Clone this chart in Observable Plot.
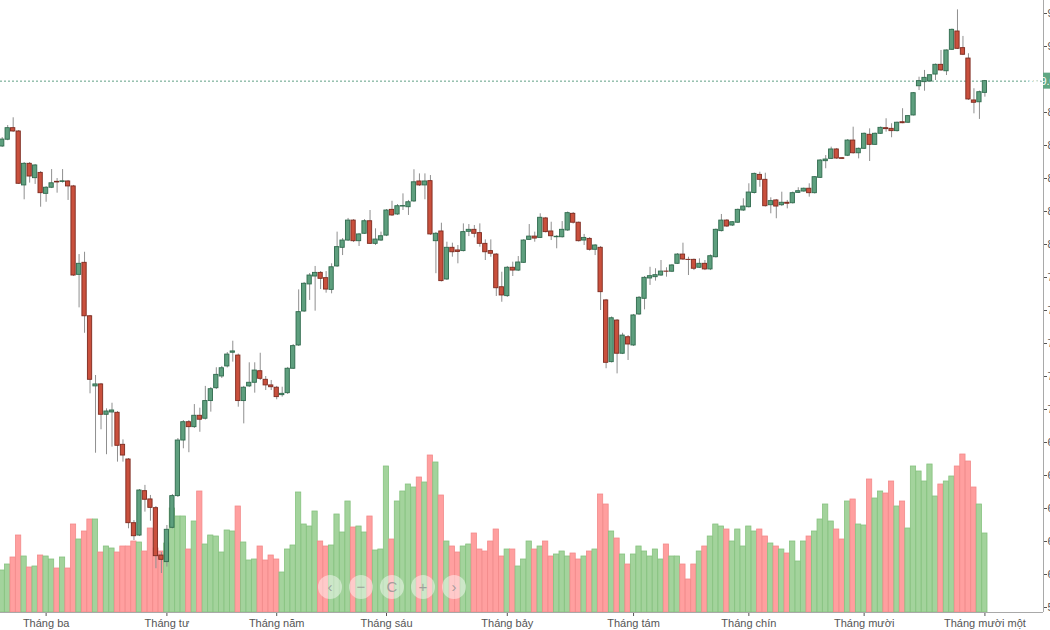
<!DOCTYPE html>
<html>
<head>
<meta charset="utf-8">
<script src="https://cdn.jsdelivr.net/npm/d3@7"></script>
<script src="https://cdn.jsdelivr.net/npm/@observablehq/plot@0.6"></script>
<style>
  html, body { margin: 0; padding: 0; background: #fff; overflow: hidden; }
  #chart { position: relative; width: 1050px; height: 630px; font-family: "Liberation Sans", Arial, sans-serif; }
  #chart svg { position: absolute; left: 0; top: 0; }
  .nav { position: absolute; width: 24px; height: 24px; border-radius: 50%;
         background: rgba(255,255,255,0.45); color: rgba(140,140,140,0.75);
         font: 15px/24px "Liberation Sans", Arial, sans-serif; text-align: center; }
</style>
</head>
<body>
<div id="chart"></div>
<script>
// Daily OHLC (index points) and volume (million shares), 19/02 – 02/11
const open = [
  859.4,863.5,870.5,868.5,835.8,848.9,840.2,843.4,830.7,834.4,
  838.0,837.9,838.2,835.2,781.6,788.9,756.5,714.0,715.2,696.8,
  698.2,698.0,678.6,669.7,631.1,623.6,650.5,645.5,640.2,611.5,
  607.5,628.3,647.5,681.2,692.3,689.3,696.2,694.4,705.1,712.9,
  720.0,726.1,734.4,732.7,705.1,714.0,716.2,723.2,718.0,714.6,
  713.2,708.7,709.9,724.7,738.8,759.4,775.8,780.6,782.8,779.6,
  772.5,786.7,798.0,802.4,814.5,802.0,806.5,814.1,800.4,802.4,
  805.4,821.0,818.2,823.0,822.6,826.1,838.2,835.8,838.4,802.0,
  807.9,778.8,798.0,796.4,796.0,807.7,808.9,806.9,800.4,796.0,
  793.9,774.1,768.7,785.9,784.2,788.9,802.8,804.8,804.0,815.8,
  807.9,804.4,804.4,808.5,818.6,813.2,802.4,803.4,796.8,798.0,
  766.1,728.7,753.9,733.8,743.8,738.8,757.6,767.1,779.4,780.2,
  781.2,783.6,783.5,788.3,793.9,790.7,790.7,785.9,788.3,784.9,
  792.3,808.1,814.5,811.5,813.2,820.6,822.6,831.2,842.2,839.2,
  823.8,826.7,823.8,825.3,825.0,831.3,832.1,833.8,831.1,840.4,
  850.5,851.9,857.6,852.3,853.8,863.0,855.3,858.0,866.5,860.4,
  867.1,870.5,870.1,868.7,874.1,873.8,878.2,895.9,898.4,898.8,
  903.0,908.9,905.0,918.0,929.1,919.0,912.7,887.3,886.2,891.9
];
const high = [
  864.8,872.1,876.8,869.1,849.7,849.7,848.5,844.2,835.1,845.4,
  840.0,845.4,838.8,835.8,793.9,795.3,757.0,720.6,715.8,700.4,
  703.8,698.8,681.6,670.3,632.7,651.5,654.0,647.9,641.2,613.3,
  629.7,648.5,682.4,693.3,693.3,703.0,700.8,714.0,713.3,725.3,
  726.1,734.5,741.4,733.6,714.0,728.3,728.3,734.1,720.0,717.6,
  714.0,713.5,725.5,739.4,772.5,777.0,782.4,786.7,783.6,783.6,
  788.3,807.5,803.6,815.8,815.1,806.7,815.1,820.6,809.5,807.5,
  821.2,826.2,824.2,830.7,826.7,845.3,842.8,842.8,841.8,807.3,
  812.9,801.4,800.8,799.4,812.5,812.1,811.5,812.5,802.8,802.8,
  794.5,783.2,786.7,789.3,792.7,803.0,812.1,807.5,818.6,816.4,
  813.5,805.4,813.9,819.7,819.4,813.6,806.1,804.2,800.0,798.8,
  766.7,756.1,754.5,746.2,744.8,757.6,768.5,780.6,786.2,785.3,
  790.3,785.9,787.9,794.5,800.8,792.3,791.2,791.3,790.3,793.7,
  809.4,818.2,815.1,813.9,821.5,827.7,836.8,843.3,843.8,843.2,
  828.3,827.3,831.7,826.7,831.8,834.4,834.2,836.8,841.2,851.5,
  853.9,859.0,858.2,852.7,863.6,871.1,858.5,867.6,870.1,867.6,
  871.2,876.2,873.2,874.2,882.3,878.2,892.1,901.4,905.5,903.0,
  909.4,917.6,917.9,930.6,942.2,926.1,915.6,894.4,893.0,899.4
];
const low = [
  858.8,862.9,867.9,836.4,827.1,837.2,836.4,822.6,825.6,833.9,
  831.1,837.2,826.7,780.6,761.6,746.2,709.5,673.5,687.7,672.6,
  677.2,668.1,668.1,627.7,620.6,623.0,637.8,632.3,603.5,600.6,
  604.5,627.6,646.7,676.2,673.8,688.5,686.2,693.6,698.4,712.1,
  718.8,725.2,728.7,701.4,691.3,713.3,709.9,717.6,711.5,711.5,
  705.9,707.5,709.1,724.3,738.2,758.8,766.1,759.6,772.7,770.5,
  770.1,786.1,793.3,801.8,801.2,798.8,806.1,800.0,799.4,801.8,
  804.8,817.0,817.6,820.6,817.6,825.5,835.2,827.1,805.5,782.3,
  777.3,778.2,792.3,788.3,795.5,804.8,804.0,798.4,790.3,792.3,
  768.5,765.0,767.9,780.6,783.6,788.5,802.4,801.4,803.6,807.0,
  802.4,797.4,803.9,807.9,812.4,801.5,799.4,796.0,793.3,760.0,
  724.7,728.2,721.6,733.3,729.7,738.2,757.0,760.4,775.2,777.8,
  780.6,780.2,783.0,787.9,790.3,781.2,784.2,785.5,784.2,784.2,
  791.8,807.6,810.3,810.9,812.7,820.0,822.1,830.6,834.7,822.7,
  818.6,815.6,823.0,821.6,824.5,830.9,831.7,828.7,830.6,840.0,
  845.9,851.5,851.5,851.5,853.3,854.8,851.9,857.6,850.3,860.0,
  866.7,868.1,864.7,868.2,873.2,873.3,877.9,893.3,892.9,898.2,
  899.4,904.9,902.4,917.6,918.2,914.5,887.3,879.2,875.8,889.3
];
const close = [
  863.6,870.5,868.5,836.8,848.9,841.2,847.9,831.1,834.4,837.1,
  837.6,838.3,835.2,781.2,788.3,756.5,718.0,715.2,696.8,698.8,
  699.4,678.0,672.1,631.1,623.2,650.9,645.3,640.4,611.1,608.9,
  627.1,647.5,681.2,692.3,689.3,696.2,693.8,705.1,712.3,721.0,
  725.0,733.3,735.2,705.1,713.2,716.2,723.6,718.6,714.6,713.5,
  707.5,709.5,724.7,738.4,759.0,776.2,781.2,782.8,779.2,772.7,
  786.2,798.4,802.4,814.5,802.0,806.1,814.1,800.4,803.0,805.0,
  820.6,817.6,823.2,823.3,825.6,837.7,835.8,838.2,806.1,806.5,
  777.8,798.0,795.3,795.5,807.5,808.9,806.5,800.4,795.3,794.4,
  773.5,769.1,785.9,784.2,789.1,802.4,804.8,803.6,816.2,807.5,
  805.0,804.7,808.9,819.0,813.2,802.0,804.0,796.8,799.4,771.1,
  728.3,755.3,733.8,744.8,739.4,757.0,767.7,779.8,780.8,781.4,
  783.6,783.5,787.3,793.9,790.9,790.6,785.3,788.3,784.9,792.9,
  808.9,814.5,810.9,813.5,821.0,823.0,831.5,842.8,839.2,823.2,
  826.3,823.0,825.3,824.7,831.1,832.3,833.8,831.1,840.8,850.9,
  851.5,857.6,852.1,851.9,863.0,855.3,858.0,867.1,860.4,867.1,
  870.7,869.9,868.7,873.8,873.5,877.8,891.7,899.0,901.0,902.6,
  908.9,905.5,917.6,930.1,918.6,915.0,887.9,885.9,892.3,899.0
];
const volume = [
  42,48,55,77,56,45,46,57,56,53,
  44,55,44,88,73,81,93,93,60,66,
  64,60,66,66,71,70,61,84,64,61,
  69,104,96,96,63,91,121,68,77,76,
  60,82,81,106,70,52,53,66,52,57,
  53,40,63,67,120,88,86,101,71,66,
  67,98,80,111,85,86,80,96,62,63,
  146,73,111,121,128,125,135,130,157,150,
  117,71,66,60,66,68,79,63,61,71,
  83,56,63,63,46,53,71,63,66,71,
  56,58,61,56,59,53,56,61,63,118,
  108,81,74,58,48,58,66,61,56,63,
  53,68,56,56,48,33,48,61,66,76,
  88,86,83,71,83,66,86,81,83,76,
  69,66,63,59,71,51,71,76,81,93,
  108,91,83,73,111,113,88,87,133,114,
  121,119,131,106,111,84,146,141,131,148,
  116,128,131,136,146,158,151,125,108,79
];
// First session of each month and its label
const monthStarts = [8, 30, 50, 70, 92, 115, 136, 157, 179];
const monthNames = ["Tháng ba","Tháng tư","Tháng năm","Tháng sáu","Tháng bảy","Tháng tám","Tháng chín","Tháng mười","Tháng mười một"];
const priceTicks = d3.range(580, 941, 20);

const rows = open.map((o, i) => ({
  i, open: o, high: high[i], low: low[i], close: close[i], volume: volume[i],
  up: close[i] >= o
}));
const lastClose = close[close.length - 1];

const W = 1050, H = 630;
const frame = {width: W, height: H, marginLeft: 0, marginRight: 7, marginTop: 0, marginBottom: 18};
const xDomain = [-0.31, 189.67];
const yDomain = [576.97, 947.88];
const font = '"Liberation Sans", Arial, sans-serif';

// Volume histogram (own scale, sits behind the candles)
const volChart = Plot.plot({
  ...frame,
  style: {background: "#fff"},
  x: {domain: xDomain, axis: null},
  y: {domain: [0, 612], axis: null},
  color: {type: "identity"},
  marks: [
    Plot.rect(rows, {
      x1: d => d.i - 0.49, x2: d => d.i + 0.47, y1: 0, y2: "volume",
      fill: d => d.up ? "#a3d39c" : "#ff9f9f",
      stroke: d => d.up ? "#86c27f" : "#f28a8a", strokeWidth: 0.8
    })
  ]
});

// The tick under the last-price tag keeps its mark but not its label
const tagTick = Math.round(lastClose / 20) * 20;

// Candlesticks with month axis and right price axis
const priceChart = Plot.plot({
  ...frame,
  style: {background: "transparent", fontFamily: font, fontSize: "11px", color: "#555"},
  x: {domain: xDomain, ticks: monthStarts, tickFormat: d => monthNames[monthStarts.indexOf(d)],
      tickSize: 4, tickPadding: 3, label: null},
  y: {domain: yDomain, axis: "right", ticks: priceTicks, tickSize: 3, tickPadding: 1, label: null,
      tickFormat: d => d === tagTick ? "" : String(d)},
  color: {type: "identity"},
  marks: [
    Plot.ruleY([yDomain[0]], {stroke: "#a9a9a9"}),
    Plot.ruleX([xDomain[1]], {stroke: "#a9a9a9"}),
    Plot.ruleY([lastClose], {stroke: "#5f9f85", strokeDasharray: "2,2"}),
    Plot.ruleX(rows, {x: "i", y1: "low", y2: "high", stroke: "#8f8f8f", strokeWidth: 1}),
    Plot.rect(rows, {
      x1: d => d.i - 0.39, x2: d => d.i + 0.39, y1: "open", y2: "close",
      fill: d => d.up ? "#5e9f7e" : "#c9503d",
      stroke: d => d.up ? "#2f6a4d" : "#7d2a1f", strokeWidth: 0.9
    })
  ]
});

// Last price tag on the right axis
const ly = priceChart.scale("y").apply(lastClose);
const tag = d3.select(priceChart).append("g");
tag.append("rect").attr("x", W - 7).attr("y", ly - 8).attr("width", 40).attr("height", 16).attr("fill", "#5fa783");
tag.append("text").attr("x", W - 5).attr("y", ly + 4).attr("fill", "#fff")
  .attr("font-size", 11).attr("font-family", font).text(lastClose.toFixed(2));

const chart = document.getElementById("chart");
chart.append(volChart, priceChart);

// Zoom / scroll navigation buttons
["‹", "−", "C", "+", "›"].forEach((s, k) => {
  const b = document.createElement("div");
  b.className = "nav";
  b.style.left = (318 + k * 31) + "px";
  b.style.top = "575px";
  b.textContent = s;
  chart.append(b);
});
</script>
</body>
</html>
